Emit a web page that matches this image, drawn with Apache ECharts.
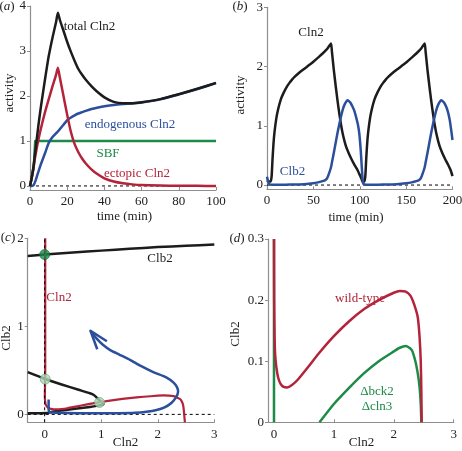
<!DOCTYPE html>
<html><head><meta charset="utf-8">
<script src="https://cdn.jsdelivr.net/npm/echarts@6.0.0/dist/echarts.min.js"></script>
<style>html,body{margin:0;padding:0;background:#fff}#c{width:462px;height:451px}</style>
</head><body><div id="c"></div>
<script>
// ---------- Panel (a): time (min) vs activity ----------
const ticksA_x = [0, 20, 40, 60, 80, 100];
const ticksA_y = [0, 1, 2, 3, 4];
const timeA = [0,1,2,3,4,5,6,8,10,12,14,15,16,18,20,22,24,26,28,30,33,36,40,45,50,55,60,70,80,90,100];
const totalCln2 = [0,0.2,0.47,0.82,1.17,1.5,1.8,2.35,2.87,3.28,3.64,3.85,3.7,3.45,3.2,2.98,2.78,2.6,2.47,2.36,2.22,2.1,1.97,1.87,1.84,1.84,1.86,1.93,2.04,2.16,2.29];
const endoCln2 = [0,0,0.02,0.12,0.25,0.38,0.5,0.72,0.95,1.08,1.17,1.21,1.26,1.36,1.46,1.52,1.57,1.61,1.64,1.67,1.71,1.74,1.77,1.8,1.82,1.835,1.855,1.925,2.035,2.155,2.285];
const ectoCln2 = [0,0.2,0.45,0.7,0.92,1.12,1.3,1.63,1.92,2.2,2.47,2.63,2.42,2.0,1.58,1.2,0.93,0.75,0.61,0.5,0.37,0.27,0.17,0.1,0.06,0.035,0.02,0.01,0.005,0.002,0];
const sbfTime = [0, 1, 2, 2.8, 100];
const sbf = [0, 0.03, 0.4, 1, 1];

// ---------- Panel (b): oscillations ----------
const ticksB_x = [0, 50, 100, 150, 200];
const ticksB_y = [0, 1, 2, 3];
const cln2B = [[0,0.08],[2,0.06],[4,0.06],[5,0.15],[6,0.45],[7,0.7],[8,0.88],[10,1.12],[12,1.28],[15,1.45],[18,1.56],[21,1.65],[24,1.72],[27,1.78],[30,1.83],[35,1.9],[40,1.96],[45,2.02],[50,2.08],[55,2.15],[60,2.22],[65,2.3],[69,2.39],[70,2.25],[72,1.95],[74,1.68],[76,1.43],[78,1.2],[80,1.0],[82,0.84],[85,0.66],[88,0.54],[91,0.44],[94,0.35],[97,0.27],[100,0.17],[102,0.1],[103,0.06],[105,0.06],[106,0.15],[107,0.45],[108,0.7],[109,0.88],[111,1.12],[113,1.28],[116,1.45],[119,1.56],[122,1.65],[125,1.72],[128,1.78],[131,1.83],[136,1.9],[141,1.96],[146,2.02],[151,2.08],[156,2.15],[161,2.22],[166,2.3],[170,2.39],[171,2.25],[173,1.95],[175,1.68],[177,1.43],[179,1.2],[181,1.0],[183,0.84],[186,0.66],[189,0.54],[192,0.44],[195,0.35],[198,0.25],[200,0.15]];
const clb2B = [[0,0.14],[1,0.07],[2,0.03],[3,0.01],[10,0.004],[20,0.006],[30,0.01],[40,0.015],[50,0.03],[55,0.045],[60,0.065],[63,0.085],[65,0.12],[67,0.2],[69,0.3],[70,0.38],[72,0.54],[74,0.71],[76,0.88],[78,1.03],[80,1.17],[82,1.29],[84,1.37],[86,1.42],[87,1.43],[88,1.42],[90,1.39],[92,1.33],[94,1.26],[96,1.15],[98,1.02],[99.5,0.87],[101,0.6],[102,0.35],[103,0.12],[104,0.02],[110,0.004],[120,0.006],[130,0.01],[140,0.015],[150,0.03],[156,0.045],[161,0.065],[164,0.085],[166,0.12],[168,0.2],[170,0.3],[171,0.38],[173,0.54],[175,0.71],[177,0.88],[179,1.03],[181,1.17],[183,1.29],[185,1.37],[187,1.42],[188,1.43],[189,1.42],[191,1.39],[193,1.33],[195,1.24],[197,1.1],[199,0.88],[200,0.76]];

// ---------- Panel (c): phase plane ----------
const ticksC_x = [0, 1, 2, 3];
const ticksC_y = [0, 1, 2];
const clb2Upper = [[-0.3,1.8],[0,1.815],[0.5,1.84],[1,1.86],[1.5,1.88],[2,1.9],[2.5,1.915],[3,1.93]];
const clb2Lower = [[-0.3,0.48],[0,0.405],[0.3,0.34],[0.6,0.28],[0.8,0.24],[0.87,0.22],[0.92,0.19],[0.97,0.16],[1.02,0.13],[1.04,0.115],[1.0,0.105],[0.8,0.085],[0.5,0.06],[0.25,0.04],[0.1,0.025],[0.05,0.015],[-0.3,0.012]];
const cln2TopC = [[0.01,2.0],[0.01,0.5]];
const cln2BottomC = [[2.48,-0.09]];
const trajectory = [[0.07,0.17],[0.07,0.06],[0.08,0.03],[0.12,0.02],[0.4,0.015],[0.8,0.012],[1.3,0.013],[1.6,0.018],[1.8,0.03],[1.98,0.05],[2.12,0.08],[2.24,0.13],[2.32,0.19],[2.36,0.26],[2.34,0.31],[2.28,0.36],[2.15,0.42],[1.92,0.48],[1.7,0.55],[1.51,0.62],[1.32,0.68],[1.16,0.73],[1.03,0.79],[0.92,0.86],[0.81,0.95]];
const arrowHead = [[1.1,0.83],[0.81,0.95],[0.93,0.74]];
const stableSS = [[0, 1.815]];
const otherSS = [[0.01, 0.40], [0.97, 0.135]];

// ---------- Panel (d): Cln2 nullclines ----------
const ticksD_x = [0, 1, 2, 3];
const ticksD_y = [0, 0.1, 0.2, 0.3];
const wildType = [[0,0.3],[0.003,0.2],[0.01,0.14],[0.02,0.11],[0.04,0.09],[0.07,0.073],[0.11,0.063],[0.16,0.058],[0.22,0.057],[0.3,0.061],[0.4,0.07],[0.55,0.088],[0.75,0.113],[1.0,0.141],[1.25,0.165],[1.5,0.185],[1.75,0.2],[2.0,0.212],[2.1,0.215],[2.2,0.214],[2.28,0.207],[2.34,0.193],[2.4,0.172],[2.43,0.14],[2.45,0.1],[2.46,0.05],[2.465,0]];
const mutantLeft = [[0,0.3],[0,0]];
const mutantRight = [[0.76,0],[1.0,0.03],[1.25,0.056],[1.5,0.08],[1.75,0.1],[2.0,0.116],[2.1,0.122],[2.2,0.125],[2.3,0.118],[2.36,0.1],[2.4,0.08],[2.43,0.058],[2.45,0.03],[2.46,0]];

// ---------- styling ----------
const FONT = '"Liberation Serif", "DejaVu Serif", serif';
const AX = '#8e8e8e';
const C_BLACK = '#1c1c1c', C_RED = '#b3233a', C_BLUE = '#2b4f9c', C_GREEN = '#1d8a47';

function xAx(gi, min, max, ticks, margin) {
  return { gridIndex: gi, type: 'value', min: min, max: max,
    axisLine: { show: true, onZero: false, lineStyle: { color: AX, width: 1.2 } },
    axisTick: { show: true, inside: true, length: 3, lineStyle: { color: AX, width: 1 }, customValues: ticks },
    axisLabel: { show: true, margin: margin, color: '#222', fontFamily: FONT, fontSize: 13, customValues: ticks },
    splitLine: { show: false } };
}
function yAx(gi, min, max, ticks, margin) {
  return { gridIndex: gi, type: 'value', min: min, max: max,
    axisLine: { show: true, onZero: false, lineStyle: { color: AX, width: 1.2 } },
    axisTick: { show: true, inside: false, length: 3, lineStyle: { color: AX, width: 1 }, customValues: ticks },
    axisLabel: { show: true, margin: margin, color: '#222', fontFamily: FONT, fontSize: 13, customValues: ticks },
    splitLine: { show: false } };
}
function line(gi, data, color, width, z, dashed, smooth) {
  return { type: 'line', xAxisIndex: gi, yAxisIndex: gi, data: data, showSymbol: false, symbol: 'none',
    smooth: smooth || false, silent: true, z: z, clip: false,
    lineStyle: { color: color, width: width, type: dashed ? [3, 3] : 'solid', cap: 'butt', join: 'round' } };
}
function zip(xs, ys) { return xs.map((x, i) => [x, ys[i]]); }
function txt(x, y, s, color, rot, size) {
  return { type: 'text', x: x, y: y, rotation: rot || 0, silent: true,
    style: { text: s, fill: color || '#222', font: (size || 13) + 'px ' + FONT, align: 'center', verticalAlign: 'middle' } };
}
function letter(x, y, l) {
  return { type: 'text', x: x, y: y, silent: true,
    style: { text: '(' + '{i|' + l + '})', fill: '#222', font: '13px ' + FONT, align: 'center', verticalAlign: 'middle',
      rich: { i: { fontStyle: 'italic', fontFamily: FONT, fontSize: 13, fill: '#222' } } } };
}

const S = 0.2;
const option = {
  animation: false,
  backgroundColor: '#fff',
  grid: [
    { left: 30, top: 6, width: 186, height: 184, outerBoundsMode: 'none' },
    { left: 267, top: 7.3, width: 185.5, height: 182, outerBoundsMode: 'none' },
    { left: 27.7, top: 238.3, width: 186.6, height: 184, outerBoundsMode: 'none' },
    { left: 268, top: 239, width: 185.7, height: 183.3, outerBoundsMode: 'none' }
  ],
  xAxis: [
    xAx(0, 0, 100, ticksA_x, 5),
    xAx(1, 0, 200, ticksB_x, 5),
    xAx(2, -0.3, 3, ticksC_x, 6),
    xAx(3, -0.1, 3, ticksD_x, 6)
  ],
  yAxis: [
    yAx(0, -0.09, 4, ticksA_y, 4),
    yAx(1, -0.072, 3, ticksB_y, 4),
    yAx(2, -0.09, 2, ticksC_y, 4),
    yAx(3, 0, 0.3, ticksD_y, 4)
  ],
  series: [
    // (a)
    line(0, [[0, 0], [100, 0]], '#000', 1, 1, true),
    line(0, zip(sbfTime, sbf), C_GREEN, 2.5, 2),
    line(0, zip(timeA, endoCln2), C_BLUE, 2.5, 3, false, S),
    line(0, zip(timeA, ectoCln2), C_RED, 2.5, 4, false, S),
    line(0, zip(timeA, totalCln2), C_BLACK, 2.5, 5, false, S),
    // (b)
    line(1, [[0, 0], [200, 0]], '#000', 1, 1, true),
    line(1, cln2B, C_BLACK, 2.5, 2, false, S),
    line(1, clb2B, C_BLUE, 2.5, 3, false, S),
    // (c)
    line(2, [[-0.3, 0], [3, 0]], '#000', 1, 1, true),
    line(2, clb2Upper, C_BLACK, 2.5, 2, false, S),
    line(2, clb2Lower, C_BLACK, 2.5, 2, false, S),
    line(2, cln2TopC.concat(wildType.slice(1, -1), cln2BottomC), C_RED, 2.2, 3, false, S),
    line(2, [[0, -0.09], [0, 2]], '#000', 1, 4, true),
    line(2, trajectory, C_BLUE, 2.5, 5, false, S),
    line(2, arrowHead, C_BLUE, 2.5, 5),
    { type: 'scatter', xAxisIndex: 2, yAxisIndex: 2, data: stableSS, symbolSize: 10, silent: true, z: 6,
      itemStyle: { color: '#17894a', borderColor: '#0f6a36', borderWidth: 0.8 } },
    { type: 'scatter', xAxisIndex: 2, yAxisIndex: 2, data: otherSS, symbolSize: 10, silent: true, z: 6,
      itemStyle: { color: '#a6d8b4', borderColor: '#6f9e7d', borderWidth: 0.8 } },
    // (d)
    line(3, mutantLeft, C_GREEN, 2.5, 2),
    line(3, mutantRight, C_GREEN, 2.5, 2, false, S),
    line(3, wildType, C_RED, 2.5, 3, false, S)
  ],
  graphic: [
    letter(7, 7, 'a'), letter(240, 7, 'b'), letter(8, 238, 'c'), letter(237, 239, 'd'),
    txt(10, 93, 'activity', '#222', Math.PI / 2, 13),
    txt(124.5, 217, 'time (min)', '#222', 0, 13),
    txt(89.5, 26.5, 'total Cln2', C_BLACK),
    txt(130, 125, 'endogenous Cln2', C_BLUE),
    txt(108, 153.5, 'SBF', C_GREEN),
    txt(137, 174, 'ectopic Cln2', C_RED),
    txt(241, 95, 'activity', '#222', Math.PI / 2, 13),
    txt(356, 218, 'time (min)', '#222', 0, 13),
    txt(311, 33, 'Cln2', C_BLACK),
    txt(292.5, 172, 'Clb2', C_BLUE),
    txt(7, 338, 'Clb2', '#222', Math.PI / 2, 13),
    txt(125.5, 443, 'Cln2', '#222', 0, 13),
    txt(59, 297.7, 'Cln2', C_RED),
    txt(160, 259, 'Clb2', C_BLACK),
    txt(236, 334, 'Clb2', '#222', Math.PI / 2, 13),
    txt(361.5, 443, 'Cln2', '#222', 0, 13),
    txt(360, 299, 'wild-type', C_RED),
    txt(377, 392, 'Δbck2', C_GREEN),
    txt(377, 407, 'Δcln3', C_GREEN)
  ]
};
const chart = echarts.init(document.getElementById('c'), null, { renderer: 'canvas' });
chart.setOption(option);
</script>
</body></html>
